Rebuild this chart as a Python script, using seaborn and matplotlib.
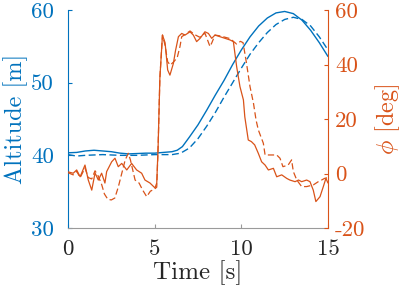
import matplotlib
matplotlib.use("Agg")
import matplotlib.pyplot as plt
import seaborn as sns
import numpy as np

# ---------------- data ----------------
t_alt = [0, 0.5, 1, 1.5, 2, 2.5, 3, 3.5, 4, 4.5, 5, 5.5, 6, 6.3, 6.6, 7, 7.5, 8,
         8.5, 9, 9.5, 10, 10.5, 11, 11.5, 12, 12.5, 13, 13.5, 14, 14.5, 15]
alt_meas = [40.35, 40.4, 40.6, 40.7, 40.6, 40.5, 40.3, 40.2, 40.25, 40.3, 40.3, 40.4,
            40.5, 40.7, 41.2, 42.5, 44.2, 46.2, 48.3, 50.3, 52.5, 54.5, 56.3, 57.8,
            58.9, 59.6, 59.8, 59.5, 58.6, 57.2, 55.5, 53.6]

t_alt_ref = [0, 0.5, 1, 2, 3, 4, 5, 6, 6.5, 7, 7.5, 8, 8.5, 9, 9.5, 10, 10.5, 11,
             11.5, 12, 12.5, 13, 13.5, 14, 14.5, 15]
alt_ref = [40.1, 39.9, 40.0, 40.1, 40.0, 40.0, 40.1, 40.1, 40.3, 41.0, 42.3, 44.0,
           45.9, 48.0, 50.0, 52.0, 53.9, 55.5, 56.9, 58.0, 58.7, 59.0, 58.7, 57.8,
           56.3, 54.5]

t_phi = [0, 0.3, 0.5, 0.7, 0.98, 1.17, 1.37, 1.56, 1.75, 1.94, 2.13, 2.23, 2.52,
         2.71, 2.9, 3.1, 3.39, 3.67, 3.96, 4.25, 4.44, 4.73, 5.02, 5.12, 5.2, 5.3,
         5.45, 5.6, 5.75, 5.88, 6.08, 6.2, 6.37, 6.56, 6.75, 7.04, 7.23, 7.42, 7.62,
         7.9, 8.1, 8.29, 8.48, 8.77, 9.06, 9.35, 9.54, 9.73, 9.92, 10.12, 10.2, 10.4,
         10.58, 10.77, 10.98, 11.17, 11.37, 11.56, 11.85, 12.04, 12.33, 12.62, 12.8,
         13.1, 13.3, 13.48, 13.77, 13.96, 14.15, 14.3, 14.54, 14.73, 14.88, 15.0]
phi_meas = [0.6, 0.1, 1.3, -1.2, 3.1, -2.4, -6.1, 0.2, -2.4, 0.1, -3.5, 0.7, 4.3,
            5.6, 2.5, 3.7, 1.3, 3.7, 1.3, 0.1, -2.4, -3.5, -5.3, -3.5, 10, 35,
            50.8, 48, 38, 36.1, 40.4, 45, 50.2, 51.4, 50.8, 52.0, 50.8, 48.4, 49.6,
            52.0, 51.4, 49.6, 50.8, 50.2, 49.6, 49.0, 48.4, 39.2, 31.9, 27.0, 20.8,
            12.3, 11.7, 10.5, 7.4, 4.3, 3.1, 1.3, 1.9, -1.2, -0.5, -1.8, -2.4,
            -3.0, -2.4, -3.0, -2.4, -3.0, -6.1, -10.3, -8.5, -4.8, -1.8, -3.5]

t_phi_ref = [0, 0.3, 0.5, 0.7, 0.98, 1.17, 1.37, 1.56, 1.75, 1.94, 2.1, 2.3, 2.5,
             2.7, 2.9, 3.1, 3.3, 3.48, 3.6, 3.87, 4.1, 4.3, 4.54, 4.75, 5.0, 5.12,
             5.2, 5.3, 5.45, 5.6, 5.75, 5.9, 6.1, 6.3, 6.46, 6.56, 6.75, 7.04, 7.3,
             7.6, 7.9, 8.05, 8.19, 8.3, 8.48, 8.77, 9.06, 9.35, 9.73, 9.95, 10.1,
             10.3, 10.5, 10.7, 10.85, 10.98, 11.27, 11.37, 11.65, 12.04, 12.23, 12.4,
             12.7, 12.9, 13.0, 13.2, 13.48, 13.77, 14.15, 14.44, 14.63, 14.8, 15.0]
phi_ref = [0.3, -0.5, 0.8, -1.5, 2.0, -1.5, -2.0, 1.0, -1.0, -4.0, -7.5, -9.5, -9.7,
           -9.0, -5.0, 0.0, 5.0, 7.4, 5.0, -2.4, -3.5, -6.0, -8.5, -6.5, -5.7, -5.0,
           10, 35, 50.8, 47, 41, 39.8, 41, 42.5, 46.6, 50.2, 51, 52.3, 51, 50,
           51.5, 49, 46.6, 48, 50.8, 50.5, 50, 49.5, 47.5, 48.5, 48, 40.4, 31.9,
           25.8, 19.6, 16, 11.1, 6.8, 6.8, 6.8, 5.6, 2.5, 3.1, 5.0, 0.7, -2.4,
           -4.8, -4.8, -4.2, -3.0, -2.4, -1.8, -1.5]

x_ticks = [0, 5, 10, 15]
alt_ticks = [30, 40, 50, 60]
phi_ticks = [-20, 0, 20, 40, 60]

# ---------------- style ----------------
sns.set_style("ticks")
plt.rcParams['font.family'] = ['cmr10', 'DejaVu Serif']
plt.rcParams['mathtext.fontset'] = 'cm'
plt.rcParams['axes.unicode_minus'] = False
plt.rcParams['axes.formatter.use_mathtext'] = False

BLUE = "#0072BD"
ORANGE = "#D95319"
GRAY = "#9a9a9a"
DARK = "#262626"

fig = plt.figure(figsize=(4.07, 2.93), dpi=100)
ax = fig.add_axes([68/407, 1-228/293, (328-68)/407, (228-10)/293])
ax2 = ax.twinx()

sns.lineplot(x=t_alt, y=alt_meas, ax=ax, color=BLUE, linewidth=1.0)
sns.lineplot(x=t_alt_ref, y=alt_ref, ax=ax, color=BLUE, linewidth=1.0)
ax.lines[-1].set_dashes((5, 2.5))

sns.lineplot(x=t_phi, y=phi_meas, ax=ax2, color=ORANGE, linewidth=0.9)
sns.lineplot(x=t_phi_ref, y=phi_ref, ax=ax2, color=ORANGE, linewidth=0.9)
ax2.lines[-1].set_dashes((5, 2.5))

ax.set_xlim(0, 15)
ax.set_ylim(30, 60)
ax2.set_ylim(-20, 60)
ax.set_xticks(x_ticks)
ax.set_yticks(alt_ticks)
ax2.set_yticks(phi_ticks)

for a in (ax, ax2):
    a.spines['top'].set_visible(False)
    a.set_facecolor('none')
ax.spines['right'].set_visible(False)
ax2.spines['left'].set_visible(False)
ax2.spines['bottom'].set_visible(False)
ax.spines['left'].set_color(BLUE)
ax2.spines['right'].set_color(ORANGE)
ax.spines['bottom'].set_color(GRAY)
for s in (ax.spines['left'], ax2.spines['right'], ax.spines['bottom']):
    s.set_linewidth(0.8)

ax.tick_params(axis='y', direction='in', length=3, width=0.8, colors=BLUE,
               labelsize=16.5, pad=10)
ax.tick_params(axis='x', direction='in', length=3, width=0.8, color=GRAY,
               labelcolor=DARK, labelsize=16.5, pad=8)
ax2.tick_params(axis='y', direction='in', length=3, width=0.8, colors=ORANGE,
                labelsize=16.5, pad=5)

ax.set_xlabel("Time [s]", fontsize=18, color=DARK, labelpad=1)
ax.set_ylabel("Altitude [m]", fontsize=17.5, color=BLUE, labelpad=2)
ax2.set_ylabel(r"$\phi$ [deg]", fontsize=17.5, color=ORANGE, labelpad=6)

fig.savefig("out.png", dpi=100)
